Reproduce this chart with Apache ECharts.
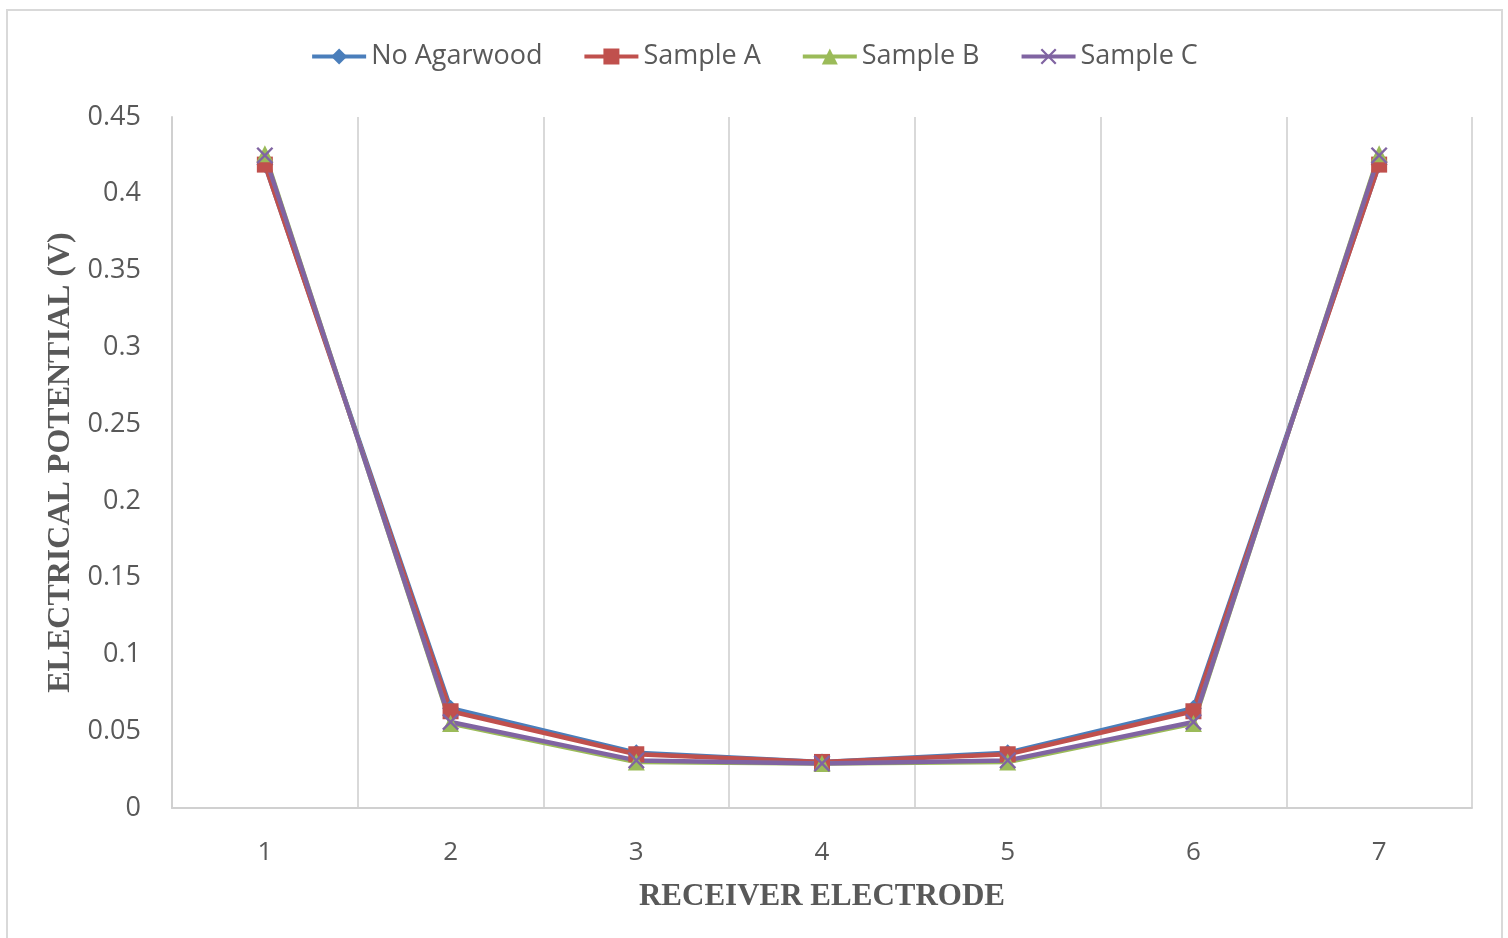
<!DOCTYPE html>
<html>
<head>
<meta charset="utf-8">
<script src="https://cdn.jsdelivr.net/npm/echarts@6/dist/echarts.min.js"></script>
<style>
  html, body { margin: 0; padding: 0; background: #ffffff; }
  #chart { width: 1508px; height: 938px; }
</style>
</head>
<body>
<div id="chart"></div>
<script>
// Receiver electrodes along the x axis
const electrodes = ['1', '2', '3', '4', '5', '6', '7'];

// Measured electrical potential (V) at each receiver electrode
const noAgarwood = [0.419, 0.065, 0.036, 0.030, 0.036, 0.065, 0.419];
const sampleA    = [0.419, 0.063, 0.035, 0.030, 0.035, 0.063, 0.419];
const sampleB    = [0.426, 0.055, 0.030, 0.029, 0.030, 0.055, 0.426];
const sampleC    = [0.425, 0.056, 0.031, 0.029, 0.031, 0.056, 0.425];

const seriesNames = ['No Agarwood', 'Sample A', 'Sample B', 'Sample C'];
const colors = ['#4a7ebb', '#c0504d', '#9bbb59', '#8064a2'];

// Thin "x" cross marker
const crossPath = 'path://M0,1L1,0L5,4L9,0L10,1L6,5L10,9L9,10L5,6L1,10L0,9L4,5Z';

const textColor = '#595959';
const uiFont = 'Open Sans';
const titleFont = 'Liberation Serif';

function lineSeries(name, data, color, symbol, size) {
  return {
    name: name,
    type: 'line',
    data: data,
    symbol: symbol,
    symbolSize: size,
    showAllSymbol: true,
    lineStyle: { color: color, width: 4.5 },
    itemStyle: { color: color },
    emphasis: { disabled: true },
    animation: false
  };
}

const chart = echarts.init(document.getElementById('chart'), null, { renderer: 'canvas' });

chart.setOption({
  backgroundColor: '#ffffff',
  animation: false,
  color: colors,
  graphic: [{
    type: 'rect',
    shape: { x: 7, y: 10, width: 1495, height: 940 },
    style: { fill: 'none', stroke: '#d9d9d9', lineWidth: 2 },
    silent: true
  }],
  legend: {
    top: 38,
    left: 'center',
    itemWidth: 54,
    itemHeight: 20,
    itemGap: 40,
    lineStyle: { width: 4 },
    textStyle: { color: textColor, fontFamily: uiFont, fontSize: 27 },
    data: seriesNames
  },
  grid: { left: 172, right: 36, top: 117, bottom: 130 },
  xAxis: {
    type: 'category',
    data: electrodes,
    boundaryGap: true,
    axisLine: { show: true, lineStyle: { color: '#d0d0d0', width: 2 } },
    axisTick: { show: false },
    axisLabel: { color: textColor, fontFamily: uiFont, fontSize: 26, margin: 32 },
    splitLine: { show: true, lineStyle: { color: '#d9d9d9', width: 2 } },
    name: 'RECEIVER ELECTRODE',
    nameLocation: 'middle',
    nameGap: 73,
    nameTextStyle: { color: textColor, fontFamily: titleFont, fontWeight: 'bold', fontSize: 31 }
  },
  yAxis: {
    type: 'value',
    min: 0,
    max: 0.45,
    interval: 0.05,
    axisLine: { show: true, lineStyle: { color: '#d0d0d0', width: 2 } },
    axisTick: { show: false },
    axisLabel: { color: textColor, fontFamily: uiFont, fontSize: 27, margin: 31 },
    splitLine: { show: false },
    name: 'ELECTRICAL POTENTIAL (V)',
    nameLocation: 'middle',
    nameGap: 94,
    nameTextStyle: { color: textColor, fontFamily: titleFont, fontWeight: 'bold', fontSize: 32 }
  },
  series: [
    lineSeries(seriesNames[0], noAgarwood, colors[0], 'diamond', 17),
    lineSeries(seriesNames[1], sampleA, colors[1], 'rect', 16),
    lineSeries(seriesNames[2], sampleB, colors[2], 'triangle', 17),
    lineSeries(seriesNames[3], sampleC, colors[3], crossPath, 17)
  ]
});
</script>
</body>
</html>
